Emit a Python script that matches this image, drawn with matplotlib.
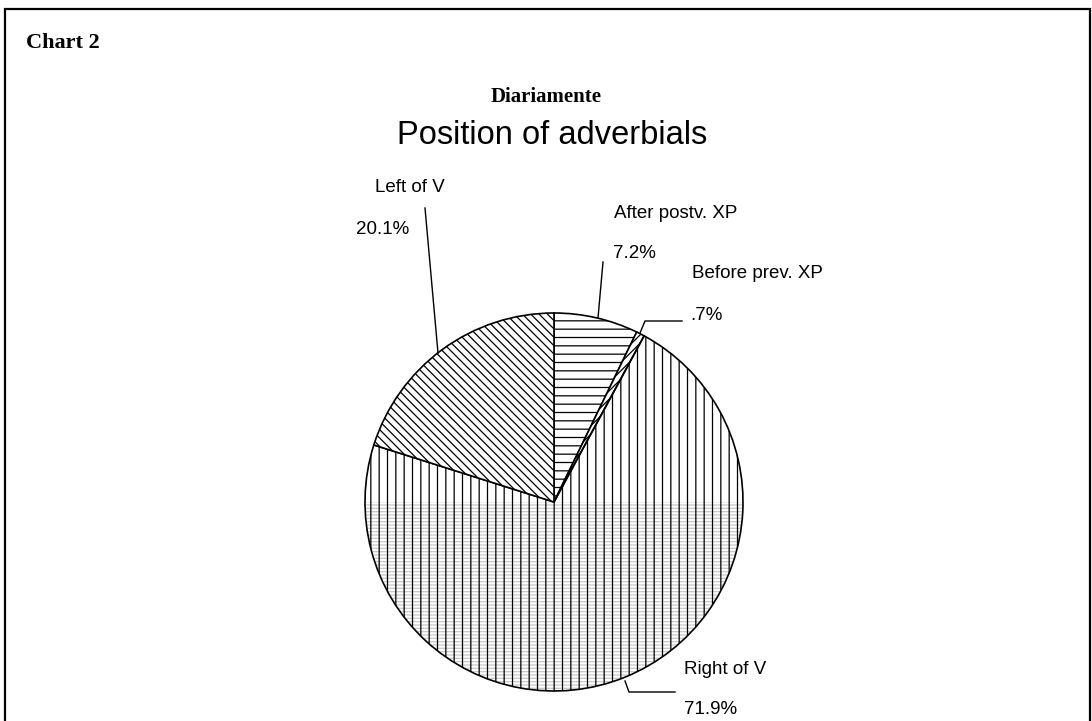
import matplotlib
matplotlib.use("Agg")
import matplotlib.pyplot as plt
from matplotlib.patches import Wedge, Rectangle

# slices, clockwise from 12 o'clock
labels = ['After postv. XP', 'Before prev. XP', 'Right of V', 'Left of V']
values = [7.2, 0.7, 71.9, 20.1]
pct_text = ['7.2%', '.7%', '71.9%', '20.1%']
hatches = ['--', '////', '||', '\\\\\\\\']

W, H = 1092, 721
CX, CY, R = 554, 502, 189   # pie centre / radius in pixels


def to_data(px, py):
    # pixel position -> pie data units
    return (px - CX) / R, (CY - py) / R


plt.rcParams['hatch.linewidth'] = 0.9

fig = plt.figure(figsize=(W / 100, H / 100), dpi=100)
fig.patch.set_facecolor('white')

# outer frame
fig.patches.append(Rectangle((5 / W, -0.05), 1085 / W, 1.05 - 9 / H,
                             transform=fig.transFigure, fill=False,
                             edgecolor='black', linewidth=1.6))

fig.text(26 / W, 1 - 43 / H, 'Chart 2', family='Liberation Serif',
         weight='bold', fontsize=16, va='center', ha='left')
fig.text(546 / W, 1 - 97 / H, 'Diariamente', family='Liberation Serif',
         weight='bold', fontsize=15, va='center', ha='center')
fig.text(552 / W, 1 - 136 / H, 'Position of adverbials',
         family='Liberation Sans', fontsize=23.5, va='center', ha='center')

ax = fig.add_axes([(CX - R) / W, (H - CY - R) / H, 2 * R / W, 2 * R / H])
wedges, _ = ax.pie(values, startangle=90, counterclock=False, radius=1,
                   wedgeprops=dict(facecolor='white', edgecolor='black',
                                   linewidth=1.2))
for w, h in zip(wedges, hatches):
    w.set_hatch(h)
    w.set_zorder(0.4)

# dense grey shading in lower half of the big slice (under its black hatch)
wedges[2].set_facecolor('none')
ax.add_patch(Wedge((0, 0), 1, 180, 360, facecolor='white', linewidth=0,
                   zorder=0.1))
ax.add_patch(Wedge((0, 0), 0.995, 180, 360, facecolor='none',
                   edgecolor='#c8c8c8', hatch='-----', linewidth=0,
                   zorder=0.3))

ax.set_xlim(-1, 1)
ax.set_ylim(-1, 1)
ax.set_aspect('auto')
ax.axis('off')

# label positions (left edge of text, centre of label line) in pixels
label_pos = [(614, 213), (692, 273), (684, 670), (375, 188)]
pct_pos = [(613, 254), (690, 315), (684, 709), (356, 230)]
leaders = [
    [(603, 262), (598, 318)],
    [(682, 321), (645, 321), (640, 333)],
    [(675, 692), (629, 692), (625, 681)],
    [(425, 208), (438, 353)],
]

for lab, pct, lp, pp, ld in zip(labels, pct_text, label_pos, pct_pos, leaders):
    x, y = to_data(*lp)
    ax.text(x, y, lab, family='Liberation Sans', fontsize=13.5,
            va='center', ha='left', clip_on=False)
    x, y = to_data(*pp)
    ax.text(x, y, pct, family='Liberation Sans', fontsize=13.5,
            va='center', ha='left', clip_on=False)
    pts = [to_data(*p) for p in ld]
    ax.plot([p[0] for p in pts], [p[1] for p in pts], color='black',
            linewidth=1.0, clip_on=False)

fig.savefig('out.png', dpi=100, facecolor='white')
